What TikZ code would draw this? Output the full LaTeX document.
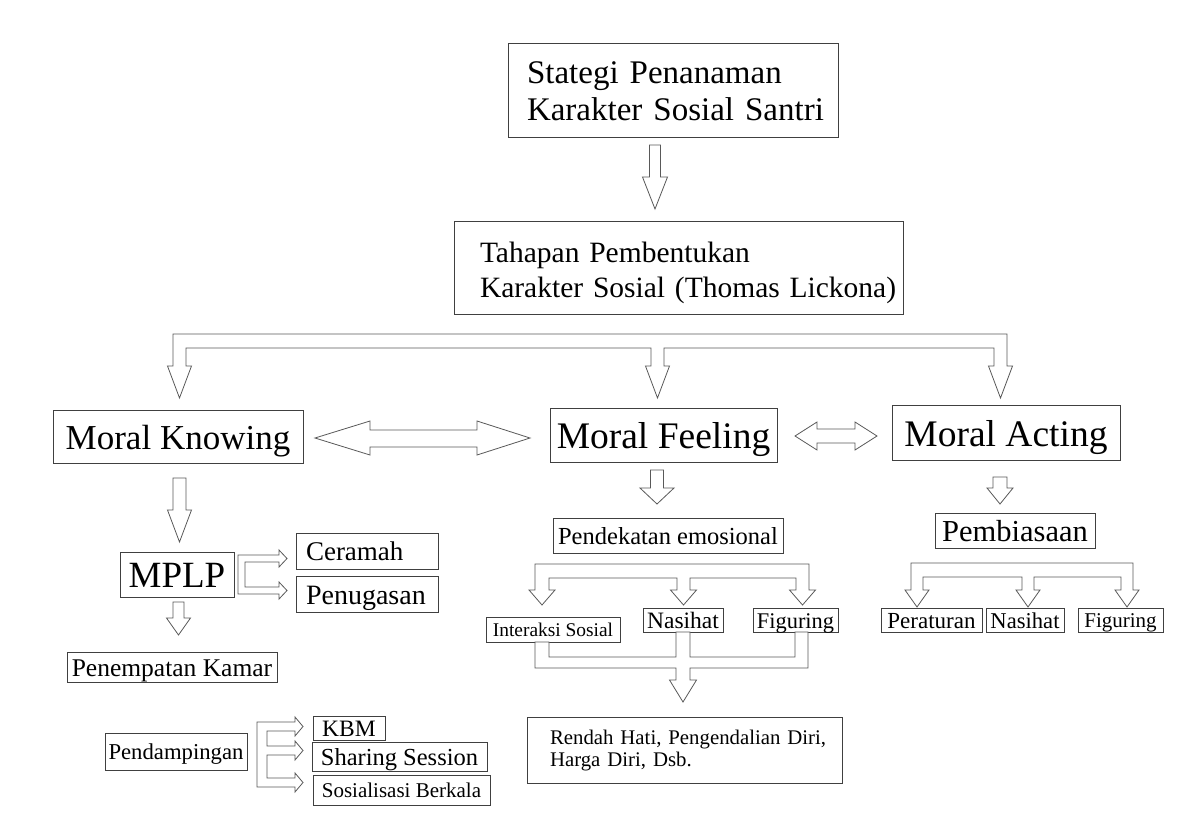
\documentclass[tikz,border=0pt]{standalone}
\usepackage{fontspec}
\setmainfont{Liberation Serif}
\begin{document}
\begin{tikzpicture}[x=1pt,y=-1pt,
  box/.style={draw=black!75, line width=0.9pt, inner sep=0pt, align=center},
  fs/.style={font=\fontsize{#1}{#1}\selectfont, text height={0.72*#1}, text depth=0pt},
  blk/.style={draw=black!65, line width=0.8pt, fill=white, line join=miter}]
\useasboundingbox (0,0) rectangle (1184,828);
\fill[white] (0,0) rectangle (1184,828);

% hollow block arrow pointing down: x, top, head base, tip, half shaft, half head
\newcommand{\dnarrow}[6]{\draw[blk] (#1-#5,#2) -- (#1-#5,#3) -- (#1-#6,#3) -- (#1,#4) -- (#1+#6,#3) -- (#1+#5,#3) -- (#1+#5,#2) -- cycle;}

% ---------- boxes ----------
\node[box, minimum width=330, minimum height=94, text width=292, align=left,
      font=\fontsize{33}{37}\selectfont, text height=23, text depth=37] (top) at (673,90)
      {\mbox{Stategi Penanaman}\\\mbox{Karakter Sosial Santri}};
\node[box, minimum width=449, minimum height=93, text width=397, align=left,
      font=\fontsize{29.5}{35}\selectfont, text height=24, text depth=35] (stage) at (678.5,267.5)
      {\mbox{Tahapan Pembentukan}\\\mbox{Karakter Sosial (Thomas Lickona)}};

\node[box, fs=35,   minimum width=250, minimum height=53] (mk) at (178,436.5) {Moral Knowing};
\node[box, fs=37.5, minimum width=227, minimum height=54] (mf) at (663.5,435) {Moral Feeling};
\node[box, fs=37.5, minimum width=228, minimum height=55] (ma) at (1006,432.5) {Moral Acting};

\node[box, fs=37, minimum width=114, minimum height=45] (mplp) at (177,574.5) {MPLP};
\node[box, fs=27, minimum width=142, minimum height=36, text width=122, align=left] (ceramah) at (367,551) {Ceramah};
\node[box, fs=28, minimum width=142, minimum height=36, text width=122, align=left] (tugas) at (367,594) {Penugasan};
\node[box, fs=25.5, minimum width=210, minimum height=30] (kamar) at (172,667) {Penempatan Kamar};
\node[box, fs=22.7, minimum width=142, minimum height=37] (damping) at (176,751.5) {Pendampingan};
\node[box, fs=23.5, minimum width=72, minimum height=24] (kbm) at (349,728) {KBM};
\node[box, fs=24.5, minimum width=175, minimum height=29] (sharing) at (399.5,756.5) {Sharing Session};
\node[box, fs=21, minimum width=177, minimum height=30] (sosial) at (401.5,790) {Sosialisasi Berkala};

\node[box, fs=24.5, minimum width=230, minimum height=35] (dekat) at (668,535.5) {Pendekatan emosional};
\node[box, fs=19.4, minimum width=134, minimum height=25] (inter) at (553,629.5) {Interaksi Sosial};
\node[box, fs=23.5, minimum width=80, minimum height=24] (nasA) at (683,620) {Nasihat};
\node[box, fs=22.4, minimum width=85, minimum height=24] (figA) at (795.5,620) {Figuring};
\node[box, minimum width=315, minimum height=66, text width=269, align=left,
      font=\fontsize{20.8}{22}\selectfont, text height=15, text depth=27] (hasil) at (684.5,750)
      {\mbox{Rendah Hati, Pengendalian Diri,}\\\mbox{Harga Diri, Dsb.}};

\node[box, fs=30.5, minimum width=160, minimum height=35] (biasa) at (1015,530.5) {Pembiasaan};
\node[box, fs=23, minimum width=101, minimum height=24] (atur) at (931.5,620) {Peraturan};
\node[box, fs=22.6, minimum width=78, minimum height=24] (nasB) at (1025,620) {Nasihat};
\node[box, fs=21, minimum width=85, minimum height=24] (figB) at (1120.5,620) {Figuring};

% ---------- simple down arrows ----------
\dnarrow{655}{145}{177}{209}{5.5}{12.5}
\dnarrow{179.5}{478}{510}{542}{6.5}{12}
\dnarrow{178.5}{602}{618}{635}{5.5}{12}
\dnarrow{657}{470}{488}{504}{6.5}{17}
\dnarrow{1000}{477}{488}{504}{7}{13}

% ---------- three-way split below the stages box ----------
\draw[blk] (179.5,398) -- (191.5,366) -- (186,366) -- (186,348) -- (651,348) -- (651,366)
  -- (645.5,366) -- (657.5,398) -- (669.5,366) -- (664,366) -- (664,348) -- (994,348)
  -- (994,366) -- (988.5,366) -- (1000.5,398) -- (1012.5,366) -- (1007,366) -- (1007,334)
  -- (173,334) -- (173,366) -- (167.5,366) -- cycle;

% ---------- double arrows between the three stages ----------
\draw[blk] (315,438) -- (370,421) -- (370,430) -- (477,430) -- (477,421) -- (530,438)
  -- (477,455) -- (477,447) -- (370,447) -- (370,455) -- cycle;
\draw[blk] (795,436) -- (817,422) -- (817,429) -- (855,429) -- (855,422) -- (877,436)
  -- (855,450) -- (855,443) -- (817,443) -- (817,450) -- cycle;

% ---------- MPLP to Ceramah / Penugasan ----------
\draw[blk] (287,558.5) -- (279,567) -- (279,562) -- (245,562) -- (245,587) -- (279,587)
  -- (279,582) -- (287,590.5) -- (279,599) -- (279,594) -- (238,594) -- (238,555)
  -- (279,555) -- (279,550) -- cycle;

% ---------- Pendampingan to its three activities ----------
\draw[blk] (303,726.5) -- (295,736) -- (295,731) -- (267,731) -- (267,746) -- (295,746)
  -- (295,741) -- (303,750.5) -- (295,760) -- (295,755) -- (267,755) -- (267,778)
  -- (295,778) -- (295,773) -- (303,782.5) -- (295,792) -- (295,787) -- (257,787)
  -- (257,722) -- (295,722) -- (295,717) -- cycle;

% ---------- Pendekatan emosional split ----------
\draw[blk] (535,564) -- (809,564) -- (809,590) -- (815.5,590) -- (802.5,605) -- (789.5,590)
  -- (796,590) -- (796,578) -- (690,578) -- (690,590) -- (696.5,590) -- (683.5,605)
  -- (670.5,590) -- (677,590) -- (677,578) -- (549,578) -- (549,590) -- (555,590)
  -- (542,605) -- (529,590) -- (535,590) -- cycle;

% ---------- merge into the outcome box ----------
\draw[blk] (549,642) -- (549,657) -- (676,657) -- (676,632) -- (690,632) -- (690,657)
  -- (795,657) -- (795,632) -- (808,632) -- (808,668) -- (690,668) -- (690,680)
  -- (696.5,680) -- (683,702) -- (669.5,680) -- (676,680) -- (676,668) -- (535,668)
  -- (535,642) -- cycle;

% ---------- Pembiasaan split ----------
\draw[blk] (911,563) -- (1133,563) -- (1133,590) -- (1139,590) -- (1127,607) -- (1115,590)
  -- (1121,590) -- (1121,577) -- (1034,577) -- (1034,590) -- (1040,590) -- (1028,607)
  -- (1016,590) -- (1022,590) -- (1022,577) -- (923,577) -- (923,590) -- (929,590)
  -- (917,607) -- (905,590) -- (911,590) -- cycle;
\end{tikzpicture}
\end{document}
